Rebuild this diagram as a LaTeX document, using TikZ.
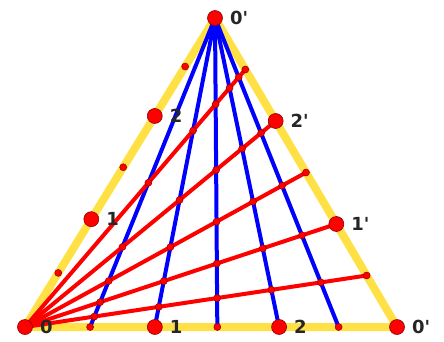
\documentclass[tikz,border=0pt]{standalone}
\usepackage{fontspec}
\setmainfont{DejaVu Sans}
\usetikzlibrary{calc}
\definecolor{edgeyellow}{RGB}{255,225,70}
\definecolor{dotrim}{RGB}{140,0,0}

\begin{document}
\begin{tikzpicture}[
  x = 1pt, y = -1pt,
  edge/.style     = {line width=8pt, edgeyellow, line join=round},
  fanline/.style  = {line width=4pt, blue},
  rayline/.style  = {line width=4pt, red},
  bigdot/.style   = {circle, fill=red, draw=dotrim, line width=0.6pt,
                     minimum size=15pt, inner sep=0pt},
  smalldot/.style = {circle, fill=red, draw=dotrim, line width=0.5pt,
                     minimum size=7pt, inner sep=0pt},
  lab/.style      = {font=\fontsize{18}{18}\selectfont\bfseries,
                     inner sep=1pt, text=black!85}
]
\useasboundingbox (0,0) rectangle (444,341);

% corners
\coordinate (A) at (25,327);
\coordinate (B) at (397,327);
\coordinate (C) at (215,18);

% points on the sides
\foreach \t [count=\i] in {0.175,0.349,0.517,0.683,0.843} {
  \coordinate (b\i) at ($(A)!\t!(B)$);
  \coordinate (l\i) at ($(A)!\t!(C)$);
}
\foreach \i in {1,...,5}
  \coordinate (r\i) at ($(C)!\i/6!(B)$);

% triangle
\draw[edge] (A) -- (B) -- (C) -- cycle;

% lines from the top corner and from the left corner
\foreach \i in {1,...,5}
  \draw[fanline] (C) -- (b\i);
\foreach \j in {1,...,5}
  \draw[rayline] (A) -- (r\j);

% crossings
\foreach \i in {1,...,5} {
  \foreach \j in {1,...,5} {
    \node[smalldot] (x\i\j) at (intersection cs: first line={(C)--(b\i)},
                                 second line={(A)--(r\j)}) {};
  }
}

% small marks on the sides
\foreach \i in {1,3,5} {
  \node[smalldot] (sb\i) at (b\i) {};
  \node[smalldot] (sl\i) at (l\i) {};
  \node[smalldot] (sr\i) at (r\i) {};
}

% labelled points
\tikzset{every label/.style={lab}, label distance=6pt}
\node[bigdot, label=right:0]  (p0)  at (A)  {};
\node[bigdot, label=right:0\textquotesingle] (q0b) at (B)  {};
\node[bigdot, label=right:0\textquotesingle] (q0t) at (C)  {};
\node[bigdot, label=right:1]  (p1b) at (b2) {};
\node[bigdot, label=right:2]  (p2b) at (b4) {};
\node[bigdot, label=right:1]  (p1l) at (l2) {};
\node[bigdot, label=right:2]  (p2l) at (l4) {};
\node[bigdot, label=right:2\textquotesingle] (q2)  at (r2) {};
\node[bigdot, label=right:1\textquotesingle] (q1)  at (r4) {};

\end{tikzpicture}
\end{document}
